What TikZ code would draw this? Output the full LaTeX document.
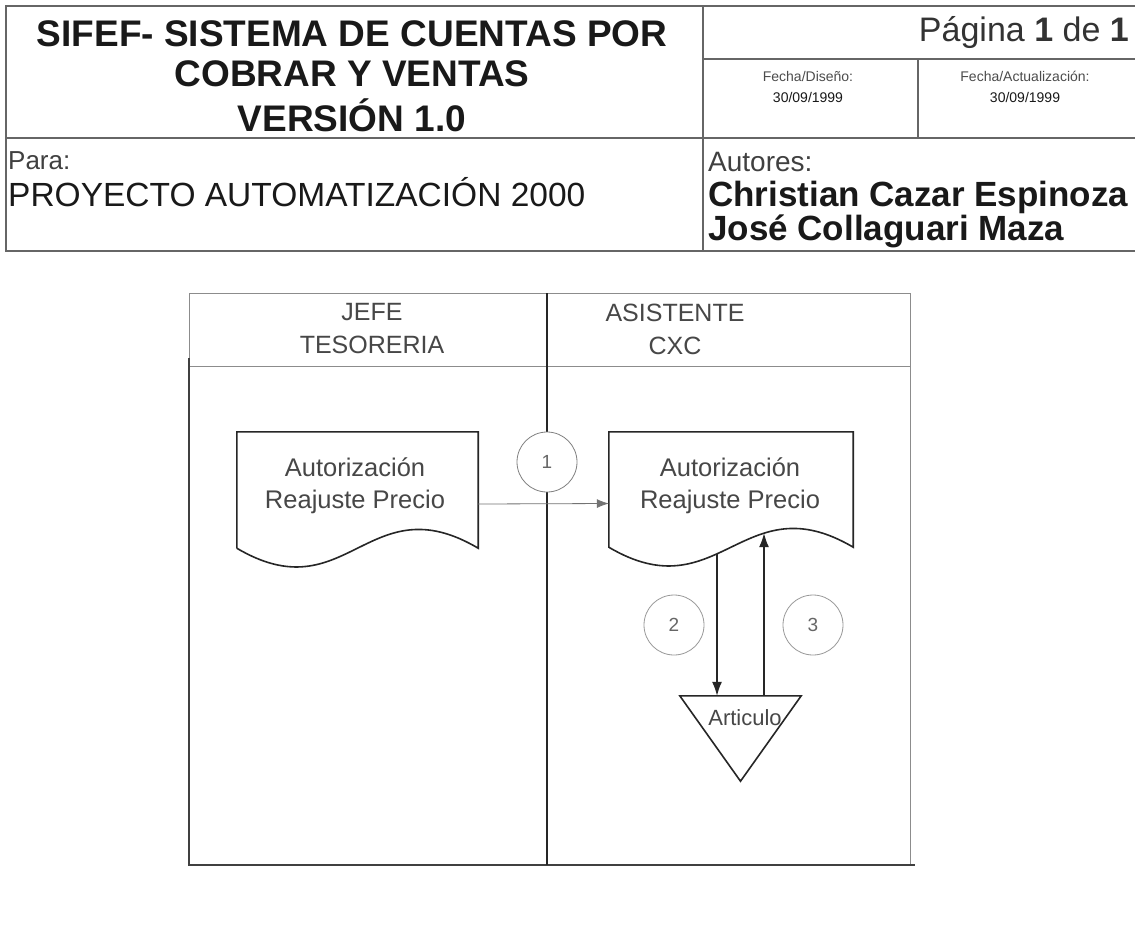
\documentclass[tikz,border=0pt]{standalone}
\usepackage{fontspec}
\setmainfont{Liberation Sans}
\usetikzlibrary{arrows.meta,intersections}
\begin{document}
\begin{tikzpicture}[x=1pt,y=-1pt,
  hline/.style={draw=black!60, line width=1.4pt},
  boxlight/.style={draw=black!45, line width=1pt},
  boxdark/.style={draw=black!75, line width=1.8pt},
  divider/.style={draw=black!85, line width=1.6pt},
  docline/.style={draw=black!85, line width=1.6pt},
  docbox/.style={rectangle, draw=none, inner sep=0pt},
  doctext/.style={font=\fontsize{25.5}{32}\selectfont, text=black!72, align=center, inner sep=0pt},
  lanetext/.style={font=\fontsize{25}{33}\selectfont, text=black!72, align=center, inner sep=0pt},
  stepcircle/.style={circle, draw=black!40, line width=0.8pt, minimum size=60pt, inner sep=0pt, fill=white, font=\fontsize{19}{19}\selectfont, text=black!60},
  arrowthick/.style={draw=black!85, line width=1.4pt, -{Latex[length=14pt,width=10pt]}},
  arrowthin/.style={draw=black!55, line width=0.8pt, -{Latex[length=12pt,width=9pt]}},
  plain/.style={inner sep=0pt, text=black!90}
]
\useasboundingbox[fill=white] (0,0) rectangle (1135,930);

% ---------- header table ----------
\draw[hline] (1135,6) -- (6,6) -- (6,251) -- (1135,251);
\draw[hline] (6,138) -- (1135,138);
\draw[hline] (703,6) -- (703,251);
\draw[hline] (703,59) -- (1135,59);
\draw[hline] (918,59) -- (918,138);

\node[plain, font=\fontsize{37}{40}\selectfont\bfseries] (t1) at (352,34) {SIFEF- SISTEMA DE CUENTAS POR};
\node[plain, font=\fontsize{37}{40}\selectfont\bfseries] (t2) at (352,74) {COBRAR Y VENTAS};
\node[plain, font=\fontsize{37}{40}\selectfont\bfseries] (t3) at (352,115) {VERSIÓN 1.0};
\node[plain, anchor=east, font=\fontsize{34}{36}\selectfont, text=black!80] (pag) at (1129,33) {Página \textbf{1} de \textbf{1}};
\node[plain, font=\fontsize{14}{16}\selectfont, text=black!70] (fd) at (808,76) {Fecha/Diseño:};
\node[plain, font=\fontsize{14}{16}\selectfont] (fdv) at (808,97) {30/09/1999};
\node[plain, font=\fontsize{14}{16}\selectfont, text=black!70] (fa) at (1025,76) {Fecha/Actualización:};
\node[plain, font=\fontsize{14}{16}\selectfont] (fav) at (1025,97) {30/09/1999};
\node[plain, anchor=west, font=\fontsize{26}{28}\selectfont, text=black!75] (para) at (8,161) {Para:};
\node[plain, anchor=west, font=\fontsize{33.5}{34}\selectfont] (proy) at (8,192) {PROYECTO AUTOMATIZACIÓN 2000};
\node[plain, anchor=west, font=\fontsize{28}{30}\selectfont, text=black!75] (aut) at (708,162) {Autores:};
\node[plain, anchor=west, font=\fontsize{35}{36}\selectfont\bfseries] (a1) at (708,197) {Christian Cazar Espinoza};
\node[plain, anchor=west, font=\fontsize{35}{36}\selectfont\bfseries] (a2) at (708,231) {José Collaguari Maza};

% ---------- swimlane frame ----------
\draw[boxlight] (189,366) -- (189,293) -- (910,293) -- (910,865);
\draw[boxlight] (189,366) -- (910,366);
\draw[boxdark] (189,358) -- (189,865) -- (915,865);
\draw[divider] (547,293) -- (547,865);

\node[lanetext] (lane1) at (372,329) {JEFE\\TESORERIA};
\node[lanetext] (lane2) at (675,329) {ASISTENTE\\CXC};

% ---------- documents ----------
\node[docbox, minimum width=241pt, minimum height=116pt] (docL) at (357.5,490) {};
\node[docbox, minimum width=244pt, minimum height=115pt] (docR) at (731,489.5) {};
\draw[docline] (docL.south west) -- (docL.north west) -- (docL.north east) -- (docL.south east)
  .. controls +(-110,-65) and +(110,65) .. (docL.south west);
\draw[docline, name path=waveR] (docR.south east) .. controls +(-110,-65) and +(110,65) .. (docR.south west)
  -- (docR.north west) -- (docR.north east) -- cycle;
\node[doctext] (docLt) at (355,486) {Autorización\\Reajuste Precio};
\node[doctext] (docRt) at (730,486) {Autorización\\Reajuste Precio};

% ---------- storage triangle ----------
\node[docbox, minimum width=121pt, minimum height=85pt] (art) at (740.5,738.5) {};
\draw[docline] (art.north west) -- (art.north east) -- (art.south) -- cycle;
\node[inner sep=0pt, font=\fontsize{22}{22}\selectfont, text=black!72] (artt) at (745,718) {Articulo};

% ---------- connectors ----------
\path[name path=v2] (717,500) -- (717,620);
\path[name path=v3] (764,500) -- (764,620);
\path[name intersections={of=waveR and v2, by=d2s}];
\path[name intersections={of=waveR and v3, by=d3e}];
\coordinate (d3s) at (art.north -| d3e);
\draw[arrowthin] ([yshift=-14pt]docL.east) -- ([yshift=-14pt]docR.west);
\draw[arrowthick] (d2s) -- (d2s |- art.north);
\draw[arrowthick] (d3s) -- (d3e);

% ---------- step circles ----------
\node[stepcircle, draw=black!50] (c1) at (547,462) {1};
\node[stepcircle] (c2) at (674,625) {2};
\node[stepcircle] (c3) at (813,625) {3};
\end{tikzpicture}
\end{document}
